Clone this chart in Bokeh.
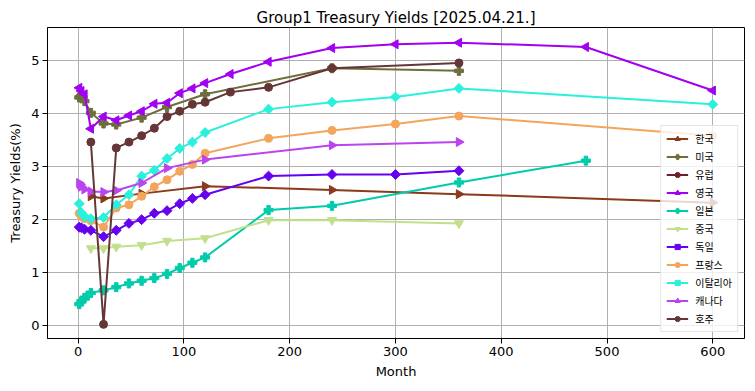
import math
from bokeh.plotting import figure
from bokeh.models import Range1d, FixedTicker, Legend, LegendItem, ColumnDataSource
from bokeh.embed import file_html
from bokeh.resources import INLINE

# ---- data ----
kr_m = [12, 24, 60, 120, 240, 360, 600]
kr_y = [2.44, 2.40, 2.49, 2.63, 2.56, 2.48, 2.32]

us_m = [1, 2, 3, 4, 6, 12, 24, 36, 60, 84, 120, 240, 360]
us_y = [4.30, 4.31, 4.33, 4.30, 4.23, 4.01, 3.81, 3.79, 3.92, 4.12, 4.36, 4.85, 4.80]

eu_m = []
eu_y = []

uk_m = [1, 3, 6, 12, 24, 36, 48, 60, 72, 84, 96, 108, 120, 144, 180, 240, 300, 360, 480, 600]
uk_y = [4.48, 4.42, 4.36, 3.71, 3.94, 3.87, 3.96, 4.04, 4.18, 4.20, 4.38, 4.47, 4.57, 4.74, 4.97, 5.23, 5.30, 5.33, 5.25, 4.43]

jp_m = [1, 3, 6, 9, 12, 24, 36, 48, 60, 72, 84, 96, 108, 120, 180, 240, 360, 480]
jp_y = [0.41, 0.46, 0.53, 0.57, 0.62, 0.67, 0.73, 0.80, 0.85, 0.90, 0.98, 1.09, 1.19, 1.29, 2.18, 2.26, 2.70, 3.11]

cn_m = [12, 24, 36, 60, 84, 120, 180, 240, 360]
cn_y = [1.46, 1.46, 1.49, 1.52, 1.60, 1.65, 1.99, 1.99, 1.93]

de_m = [1, 3, 6, 12, 24, 36, 48, 60, 72, 84, 96, 108, 120, 180, 240, 300, 360]
de_y = [1.86, 1.85, 1.82, 1.80, 1.68, 1.80, 1.93, 2.00, 2.12, 2.17, 2.30, 2.40, 2.47, 2.82, 2.85, 2.85, 2.92]

fr_m = [1, 3, 6, 12, 24, 36, 48, 60, 72, 84, 96, 108, 120, 180, 240, 300, 360, 600]
fr_y = [2.12, 2.06, 2.02, 1.98, 1.86, 2.22, 2.28, 2.44, 2.62, 2.75, 2.91, 3.04, 3.25, 3.53, 3.68, 3.80, 3.95, 3.58]

it_m = [1, 3, 6, 12, 24, 36, 48, 60, 72, 84, 96, 108, 120, 180, 240, 300, 360, 600]
it_y = [2.30, 2.13, 2.06, 2.02, 2.04, 2.28, 2.47, 2.82, 2.93, 3.15, 3.34, 3.46, 3.64, 4.08, 4.21, 4.31, 4.47, 4.17]

ca_m = [1, 2, 3, 6, 12, 24, 36, 60, 84, 120, 240, 360]
ca_y = [2.69, 2.66, 2.62, 2.57, 2.53, 2.52, 2.55, 2.69, 2.97, 3.13, 3.40, 3.46]

au_m = [12, 24, 36, 48, 60, 72, 84, 96, 108, 120, 144, 180, 240, 360]
au_y = [3.46, 0.03, 3.35, 3.46, 3.58, 3.72, 3.94, 4.04, 4.17, 4.21, 4.40, 4.49, 4.85, 4.95]

x_ticks = [0, 100, 200, 300, 400, 500, 600]
y_ticks = [0, 1, 2, 3, 4, 5]

title_text = "Group1 Treasury Yields [2025.04.21.]"

series = [
    ("한국", kr_m, kr_y, "#8B3A1B", "triangle", -math.pi / 2, 9),
    ("미국", us_m, us_y, "#6E6E3C", "plus", 0, 9),
    ("유럽", eu_m, eu_y, "#6E1F2E", "circle", 0, 8),
    ("영국", uk_m, uk_y, "#A100F2", "triangle", math.pi / 2, 9),
    ("일본", jp_m, jp_y, "#00CCAA", "plus", 0, 9),
    ("중국", cn_m, cn_y, "#C2E08C", "inverted_triangle", 0, 9),
    ("독일", de_m, de_y, "#6600EE", "square", math.pi / 4, 7),
    ("프랑스", fr_m, fr_y, "#F4A55C", "circle", 0, 8),
    ("이탈리아", it_m, it_y, "#2AF0DC", "square", math.pi / 4, 7),
    ("캐나다", ca_m, ca_y, "#BA44F0", "triangle", -math.pi / 2, 9),
    ("호주", au_m, au_y, "#653636", "circle", 0, 8),
]

FONT = "DejaVu Sans"

p = figure(width=746, height=382, output_backend="svg", toolbar_location=None,
           x_range=Range1d(-29, 630), y_range=Range1d(-0.236, 5.616),
           min_border_left=47, min_border_right=2, min_border_top=27, min_border_bottom=44)

p.title.text = title_text
p.title.align = "center"
p.title.text_font = FONT
p.title.text_font_style = "normal"
p.title.text_font_size = "15px"
p.title.text_color = "black"
p.title.standoff = 2

p.outline_line_color = "black"
p.outline_line_width = 1
p.outline_line_alpha = 1

p.xaxis.ticker = FixedTicker(ticks=x_ticks)
p.yaxis.ticker = FixedTicker(ticks=y_ticks)
for ax in (p.xaxis, p.yaxis):
    ax.major_label_text_font = FONT
    ax.major_label_text_font_size = "13px"
    ax.major_label_text_color = "black"
    ax.axis_label_text_font = FONT
    ax.axis_label_text_font_size = "13px"
    ax.axis_label_text_font_style = "normal"
    ax.axis_label_text_color = "black"
    ax.minor_tick_line_color = None
    ax.major_tick_in = 0
    ax.major_tick_out = 5
    ax.major_tick_line_color = "black"
    ax.axis_line_color = "black"
    ax.major_label_standoff = 3
    ax.axis_label_standoff = 5
p.xaxis.axis_label = "Month"
p.yaxis.axis_label = "Treasury Yields(%)"

p.grid.grid_line_color = "#b0b0b0"
p.grid.grid_line_width = 1

items = []
for name, m, y, color, marker, ang, size in series:
    if len(m) == 0:
        src = ColumnDataSource(dict(x=[float("nan")], y=[float("nan")]))
    else:
        src = ColumnDataSource(dict(x=m, y=y))
    r1 = p.line("x", "y", source=src, line_color=color, line_width=2)
    r2 = p.scatter("x", "y", source=src, marker=marker, angle=ang, size=size,
                   fill_color=color, line_color=color)
    items.append(LegendItem(label=name, renderers=[r1, r2]))

legend = Legend(items=items, location="bottom_right")
legend.label_text_font = "Noto Sans CJK KR"
legend.label_text_font_size = "10px"
legend.label_text_color = "black"
legend.label_height = 13
legend.glyph_height = 13
legend.glyph_width = 22
legend.spacing = 3
legend.padding = 5
legend.margin = 6
legend.label_standoff = 7
legend.border_line_color = "#cccccc"
legend.border_line_width = 1
legend.background_fill_alpha = 0.8
p.add_layout(legend)

open("out.html", "w").write(file_html(p, INLINE))
